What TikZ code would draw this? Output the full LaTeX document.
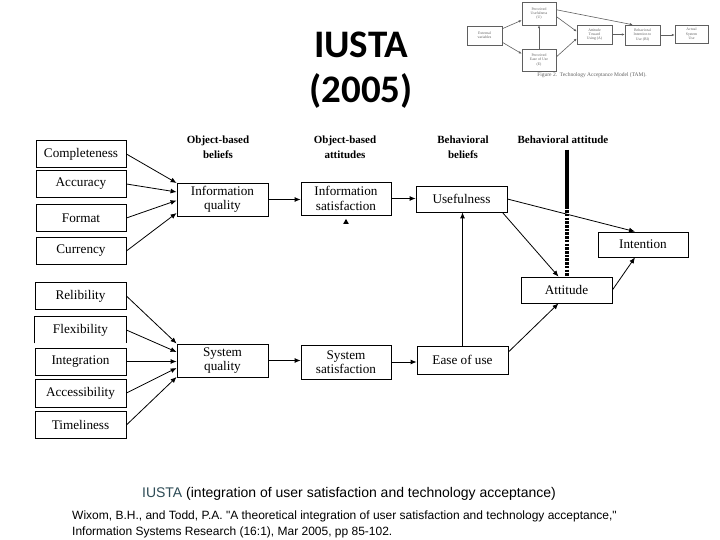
\documentclass[tikz,border=0pt]{standalone}
\usepackage{fontspec}
\setmainfont{Liberation Serif}
\newfontfamily\capfont{Liberation Sans}
\newfontfamily\titlefont{Carlito}
\usetikzlibrary{arrows.meta,calc}
\definecolor{iustacol}{RGB}{45,75,85}
\definecolor{insetcol}{RGB}{95,95,95}
\tikzset{
  box/.style={draw, line width=0.8pt, inner sep=0pt, align=center, font=\fontsize{13.2}{14.5}\selectfont},
  hdr/.style={inner sep=0pt, align=center, font=\bfseries\fontsize{11}{15}\selectfont},
  arr/.style={line width=0.8pt, -{Latex[length=6pt,width=5pt]}},
  ibox/.style={draw=insetcol, line width=0.5pt, inner sep=0pt, align=center, text=insetcol, font=\fontsize{3.8}{4.3}\selectfont},
  iarr/.style={draw=insetcol, line width=0.6pt, -{Latex[length=3pt,width=2.5pt]}}
}
\begin{document}
\begin{tikzpicture}[x=1pt,y=-1pt]
\useasboundingbox (0,0) rectangle (720,540);
% title
\node[anchor=base, inner sep=0pt, font=\titlefont\bfseries\fontsize{39}{44}\selectfont] (t1) at (361,58) {IUSTA};
\node[anchor=base, inner sep=0pt, font=\titlefont\bfseries\fontsize{39}{44}\selectfont] (t2) at (361,103) {(2005)};
% inset TAM
\node[ibox, minimum width=35, minimum height=19] (ext) at (484.5,35.5) {External\\variables};
\node[ibox, minimum width=34, minimum height=23] (pu) at (539,13.5) {Perceived\\Usefulness\\(U)};
\node[ibox, minimum width=34, minimum height=22] (peou) at (539,60) {Perceived\\Ease of Use\\(E)};
\node[ibox, minimum width=35, minimum height=19] (iatt) at (594.5,34.5) {Attitude\\Toward\\Using (A)};
\node[ibox, minimum width=35, minimum height=20] (bi) at (642.5,35) {Behavioral\\Intention to\\Use (BI)};
\node[ibox, minimum width=33, minimum height=18] (asu) at (691.5,34) {Actual\\System\\Use};
\node[inner sep=0pt, text=insetcol, font=\fontsize{5.5}{6}\selectfont] (icap) at (592,75) {Figure 2.\enspace Technology Acceptance Model (TAM).};
\draw[iarr] ($(ext.north east)+(0,3)$) -- ($(pu.south west)+(0,-5)$);
\draw[iarr] ($(ext.south east)+(0,-3)$) -- ($(peou.north west)+(0,5)$);
\draw[iarr] (peou.north) -- (pu.south);
\draw[iarr] ($(pu.east)+(0,3)$) -- ($(iatt.west)+(0,-3)$);
\draw[iarr] ($(peou.east)+(0,-3)$) -- ($(iatt.west)+(0,4)$);
\draw[iarr] (iatt.east) -- (iatt.east -| bi.west);
\draw[iarr] (bi.east) -- (bi.east -| asu.west);
\draw[iarr] ($(pu.north east)+(0,8)$) -- ($(bi.north west)+(8,0)$);
% headers
\node[hdr] (h1) at (218,147.5) {Object-based\\beliefs};
\node[hdr] (h2) at (345,147.5) {Object-based\\attitudes};
\node[hdr] (h3) at (463,147.5) {Behavioral\\beliefs};
\node[hdr] (h4) at (563,140) {Behavioral attitude};
% left boxes (top)
\node[box, minimum width=90, minimum height=27] (comp) at (81,154) {Completeness};
\node[box, minimum width=90, minimum height=27] (accu) at (81,184) {Accuracy};
\node[box, minimum width=90, minimum height=27] (form) at (81,218) {Format};
\node[box, minimum width=90, minimum height=27] (curr) at (81,251) {Currency};
% left boxes (bottom)
\node[box, minimum width=91, minimum height=27] (reli) at (80.5,296) {Relibility};
\node[box, draw=none, minimum width=91, minimum height=26] (flex) at (80.5,330) {Flexibility};
\draw[line width=0.8pt] (flex.south west) |- (flex.north east) -- (flex.south east);
\node[box, minimum width=91, minimum height=27] (inte) at (80.5,361.5) {Integration};
\node[box, minimum width=91, minimum height=28] (acce) at (80.5,393) {Accessibility};
\node[box, minimum width=91, minimum height=27] (time) at (80.5,425) {Timeliness};
% middle
\node[box, minimum width=91, minimum height=33] (iq) at (222.5,199.5) {Information\\quality};
\node[box, minimum width=90, minimum height=33] (is) at (346,198.5) {Information\\satisfaction};
\node[box, minimum width=91, minimum height=26] (use) at (461.5,199) {Usefulness};
\node[box, minimum width=90, minimum height=25] (int) at (643,244.5) {Intention};
\node[box, minimum width=91, minimum height=26] (att) at (566.5,290) {Attitude};
\node[box, minimum width=91, minimum height=33] (sq) at (222.5,360.5) {System\\quality};
\node[box, minimum width=90, minimum height=34] (ss) at (346,362) {System\\satisfaction};
\node[box, minimum width=91, minimum height=28] (ease) at (462.5,360) {Ease of use};
% arrows into IQ
\draw[arr] (comp.east) -- ($(iq.west)+(0,-16.5)$);
\draw[arr] (accu.east) -- ($(iq.west)+(0,-7.5)$);
\draw[arr] (form.east) -- ($(iq.west)+(0,1)$);
\draw[arr] (curr.east) -- ($(iq.west)+(0,13.5)$);
% arrows into SQ
\draw[arr] (reli.east) -- ($(sq.west)+(0,-17)$);
\draw[arr] (flex.east) -- ($(sq.west)+(0,-8.5)$);
\draw[arr] (inte.east) -- (inte.east -| sq.west);
\draw[arr] (acce.east) -- ($(sq.west)+(0,7.5)$);
\draw[arr] (time.east) -- ($(sq.west)+(0,16.5)$);
% chain
\draw[arr] (iq.east) -- (iq.east -| is.west);
\draw[arr] (is.east) -- (is.east -| use.west);
\draw[arr] (sq.east) -- (sq.east -| ss.west);
\draw[arr] (ss.east) -- (ss.east -| ease.west);
\draw[arr] (use.east) -- ($(int.north)+(-8,0)$);
\draw[arr] ($(use.south east)+(-5,0)$) -- ($(att.north)+(-8,0)$);
\draw[arr] (att.east) -- ($(int.south)+(-8,0)$);
\draw[arr] (ease.north) -- (ease.north |- use.south);
\draw[arr] ($(ease.east)+(0,-8)$) -- ($(att.south)+(-8,0)$);
% small triangle under information satisfaction
\coordinate (tri) at ($(is.south)+(0,3.5)$);
\fill (tri) -- ++(-2.8,5) -- ++(5.6,0) -- cycle;
% behavioral attitude divider
\coordinate (bt) at ($(att.north)+(0,-127)$);
\coordinate (bm) at ($(att.north)+(0,-70)$);
\draw[line width=4pt] (bt) -- (bm);
\draw[line width=4pt, dash pattern=on 2.5pt off 1.2pt] (bm) -- (att.north);
% captions
\node[anchor=base, inner sep=0pt, font=\capfont\fontsize{14}{16}\selectfont] (cap) at (349,497) {\textcolor{iustacol}{IUSTA} (integration of user satisfaction and technology acceptance)};
\node[anchor=base west, inner sep=0pt, font=\capfont\fontsize{12}{14}\selectfont] (ref1) at (72,519) {Wixom, B.H., and Todd, P.A. "A theoretical integration of user satisfaction and technology acceptance,"};
\node[anchor=base west, inner sep=0pt, font=\capfont\fontsize{12}{14}\selectfont] (ref2) at (72,535) {Information Systems Research (16:1), Mar 2005, pp 85-102.};
\end{tikzpicture}
\end{document}
